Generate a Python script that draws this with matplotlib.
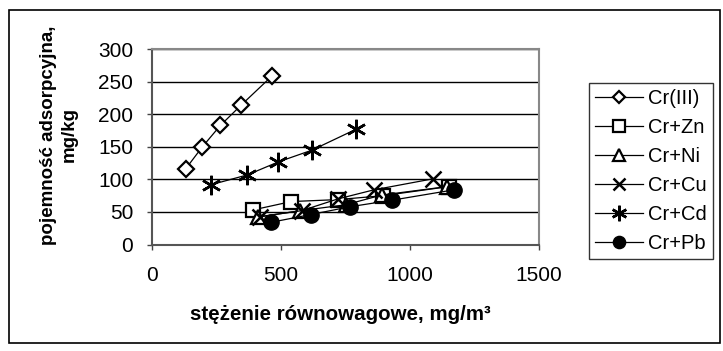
import matplotlib.pyplot as plt
from matplotlib.patches import Rectangle

plt.rcParams['font.family'] = ['Liberation Sans', 'DejaVu Sans']

# equilibrium concentration (mg/m3) and adsorption capacity (mg/kg)
cr3_x = [130, 195, 265, 345, 465]
cr3_y = [116, 150, 183, 214, 259]
zn_x = [390, 540, 720, 895, 1150]
zn_y = [53, 66, 69, 75, 89]
ni_x = [410, 575, 750, 890, 1145]
ni_y = [42, 52, 61, 76, 89]
cu_x = [420, 580, 720, 860, 1090]
cu_y = [43, 52, 70, 84, 101]
cd_x = [230, 370, 490, 620, 790]
cd_y = [92, 107, 127, 145, 177]
pb_x = [460, 615, 767, 929, 1170]
pb_y = [34, 46, 58, 68, 84]

series = [
    ("Cr(III)", cr3_x, cr3_y, dict(marker="D", ms=8, mfc="white", mew=1.6)),
    ("Cr+Zn", zn_x, zn_y, dict(marker="s", ms=10, mfc="white", mew=1.6)),
    ("Cr+Ni", ni_x, ni_y, dict(marker="^", ms=10, mfc="white", mew=1.6)),
    ("Cr+Cu", cu_x, cu_y, dict(marker="x", ms=11, mew=1.8)),
    ("Cr+Cd", cd_x, cd_y, dict(marker=(6, 2, 0), ms=14, mew=1.8)),
    ("Cr+Pb", pb_x, pb_y, dict(marker="o", ms=11, mfc="black")),
]

W, H = 723, 351
fig = plt.figure(figsize=(W / 100, H / 100), dpi=100)
ax = fig.add_axes([152 / W, 1 - 244.5 / H, (539 - 152) / W, (244.5 - 49.3) / H])

for name, x, y, st in series:
    ax.plot(x, y, color="black", lw=0.9, mec="black", label=name, **st)

ax.set_xlim(0, 1500)
ax.set_ylim(0, 300)
ax.set_xticks([0, 500, 1000, 1500])
ax.set_yticks(range(0, 301, 50))
ax.yaxis.grid(True, color="black", lw=1)
ax.set_axisbelow(True)
ax.tick_params(direction="out", length=3.6, width=1, labelsize=15, color="#444")
ax.tick_params(axis="x", pad=12)
ax.tick_params(axis="y", pad=10)
for s in ("top", "right"):
    ax.spines[s].set_color("#888")
    ax.spines[s].set_linewidth(1.5)
for s in ("left", "bottom"):
    ax.spines[s].set_color("#555")
    ax.spines[s].set_linewidth(1.5)

fig.text(340 / W, 1 - 315 / H, "stężenie równowagowe, mg/m³",
         ha="center", va="center", fontsize=14.8, fontweight="bold")
fig.text(59 / W, 1 - 135 / H, "pojemność adsorpcyjna,\nmg/kg", rotation=90,
         ha="center", va="center", multialignment="center",
         fontsize=13.5, fontweight="bold", linespacing=1.25)

leg = ax.legend(loc="upper left", bbox_to_anchor=(589 / W, 1 - 83 / H),
                bbox_transform=fig.transFigure, frameon=True, fancybox=False,
                fontsize=14.5, handlelength=2.4, handletextpad=0.25,
                labelspacing=0.5, borderpad=0.3, borderaxespad=0,
                markerscale=0.8)
leg.get_frame().set_edgecolor("black")
leg.get_frame().set_linewidth(1)

fig.patches.append(Rectangle((9 / W, 1 - 343 / H), 711 / W, 333 / H,
                             transform=fig.transFigure, fill=False,
                             edgecolor="black", lw=1.2))

fig.savefig("out.png", dpi=100)
